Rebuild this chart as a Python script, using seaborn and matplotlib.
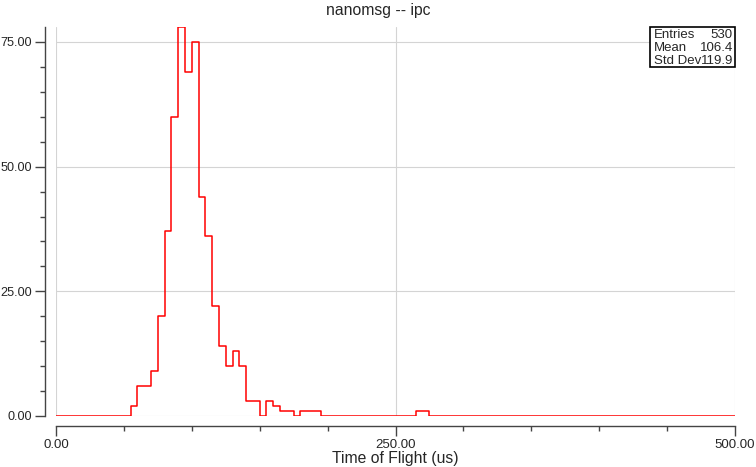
import numpy as np
import pandas as pd
import matplotlib
matplotlib.use("Agg")
import matplotlib.pyplot as plt
import seaborn as sns
from matplotlib.ticker import MultipleLocator, FormatStrFormatter
from matplotlib.patches import Rectangle

# ---- data ----
bin_width = 5
x_min, x_max = 0, 500
counts = [0, 0, 0, 0, 0, 0, 0, 0, 0, 0,
          0, 2, 6, 6, 9, 20, 37, 60, 78, 69,
          75, 44, 36, 22, 14, 10, 13, 10, 3, 3,
          0, 3, 2, 1, 1, 0, 1, 1, 1, 0,
          0, 0, 0, 0, 0, 0, 0, 0, 0, 0,
          0, 0, 0, 1, 1, 0, 0, 0, 0, 0,
          0, 0, 0, 0, 0, 0, 0, 0, 0, 0,
          0, 0, 0, 0, 0, 0, 0, 0, 0, 0,
          0, 0, 0, 0, 0, 0, 0, 0, 0, 0,
          0, 0, 0, 0, 0, 0, 0, 0, 0, 0]
stat_labels = ["Entries", "Mean", "Std Dev"]
stat_values = ["530", "106.4", "119.9"]
title = "nanomsg -- ipc"
xlabel = "Time of Flight (us)"

centers = np.arange(x_min, x_max, bin_width) + bin_width / 2
df = pd.DataFrame({"tof": centers, "count": counts})

sns.set_style("white")
plt.rcParams['font.family'] = ['Liberation Sans', 'DejaVu Sans']

fig = plt.figure(figsize=(7.56, 4.67), dpi=100)
ax = fig.add_axes([56/756, 51/467, 679/756, 389/467])

sns.histplot(data=df, x="tof", weights="count", binwidth=bin_width,
             binrange=(x_min, x_max), element="step",
             fill=False, color="#ff0000", linewidth=1.1, ax=ax)

ax.set_xlim(x_min, x_max)
ax.set_ylim(0, 78)
ax.set_ylabel("")
ax.set_xlabel(xlabel, fontsize=11.3, labelpad=0)
fig.text(0.5, 1 - 11/467, title, fontsize=11.3, ha="center", va="center")

ax.xaxis.set_major_locator(MultipleLocator(250))
ax.xaxis.set_minor_locator(MultipleLocator(50))
ax.yaxis.set_major_locator(MultipleLocator(25))
ax.yaxis.set_minor_locator(MultipleLocator(5))
ax.xaxis.set_major_formatter(FormatStrFormatter("%.2f"))
ax.yaxis.set_major_formatter(FormatStrFormatter("%.2f"))

ax.grid(True, which="major", color="#d4d4d4", linewidth=0.8)
ax.set_axisbelow(True)

for s in ["top", "right"]:
    ax.spines[s].set_visible(False)
ax.spines["left"].set_position(("outward", 8))
ax.spines["bottom"].set_position(("outward", 7))
for s in ["left", "bottom"]:
    ax.spines[s].set_color("#444444")
    ax.spines[s].set_linewidth(1.0)

ax.tick_params(axis="both", which="major", length=7.5, width=1, color="#444444",
               labelsize=9.5, pad=2, direction="out", left=True, bottom=True)
ax.tick_params(axis="y", which="major", labelsize=9.1, pad=1.8)
ax.tick_params(axis="both", which="minor", length=3.8, width=1, color="#444444",
               direction="out", left=True, bottom=True)

# stats box
box = Rectangle((0.875, 0.897), 0.125, 0.103, transform=ax.transAxes,
                fill=True, facecolor="white", edgecolor="black", linewidth=1.2,
                clip_on=False, zorder=5)
ax.add_patch(box)
ys = [0.979, 0.946, 0.913]
for lab, val, yy in zip(stat_labels, stat_values, ys):
    ax.text(0.880, yy, lab, transform=ax.transAxes, fontsize=9.5, va="center",
            ha="left", zorder=6)
    ax.text(0.997, yy, val, transform=ax.transAxes, fontsize=9.5, va="center",
            ha="right", zorder=6)

fig.savefig("out.png", dpi=100)
